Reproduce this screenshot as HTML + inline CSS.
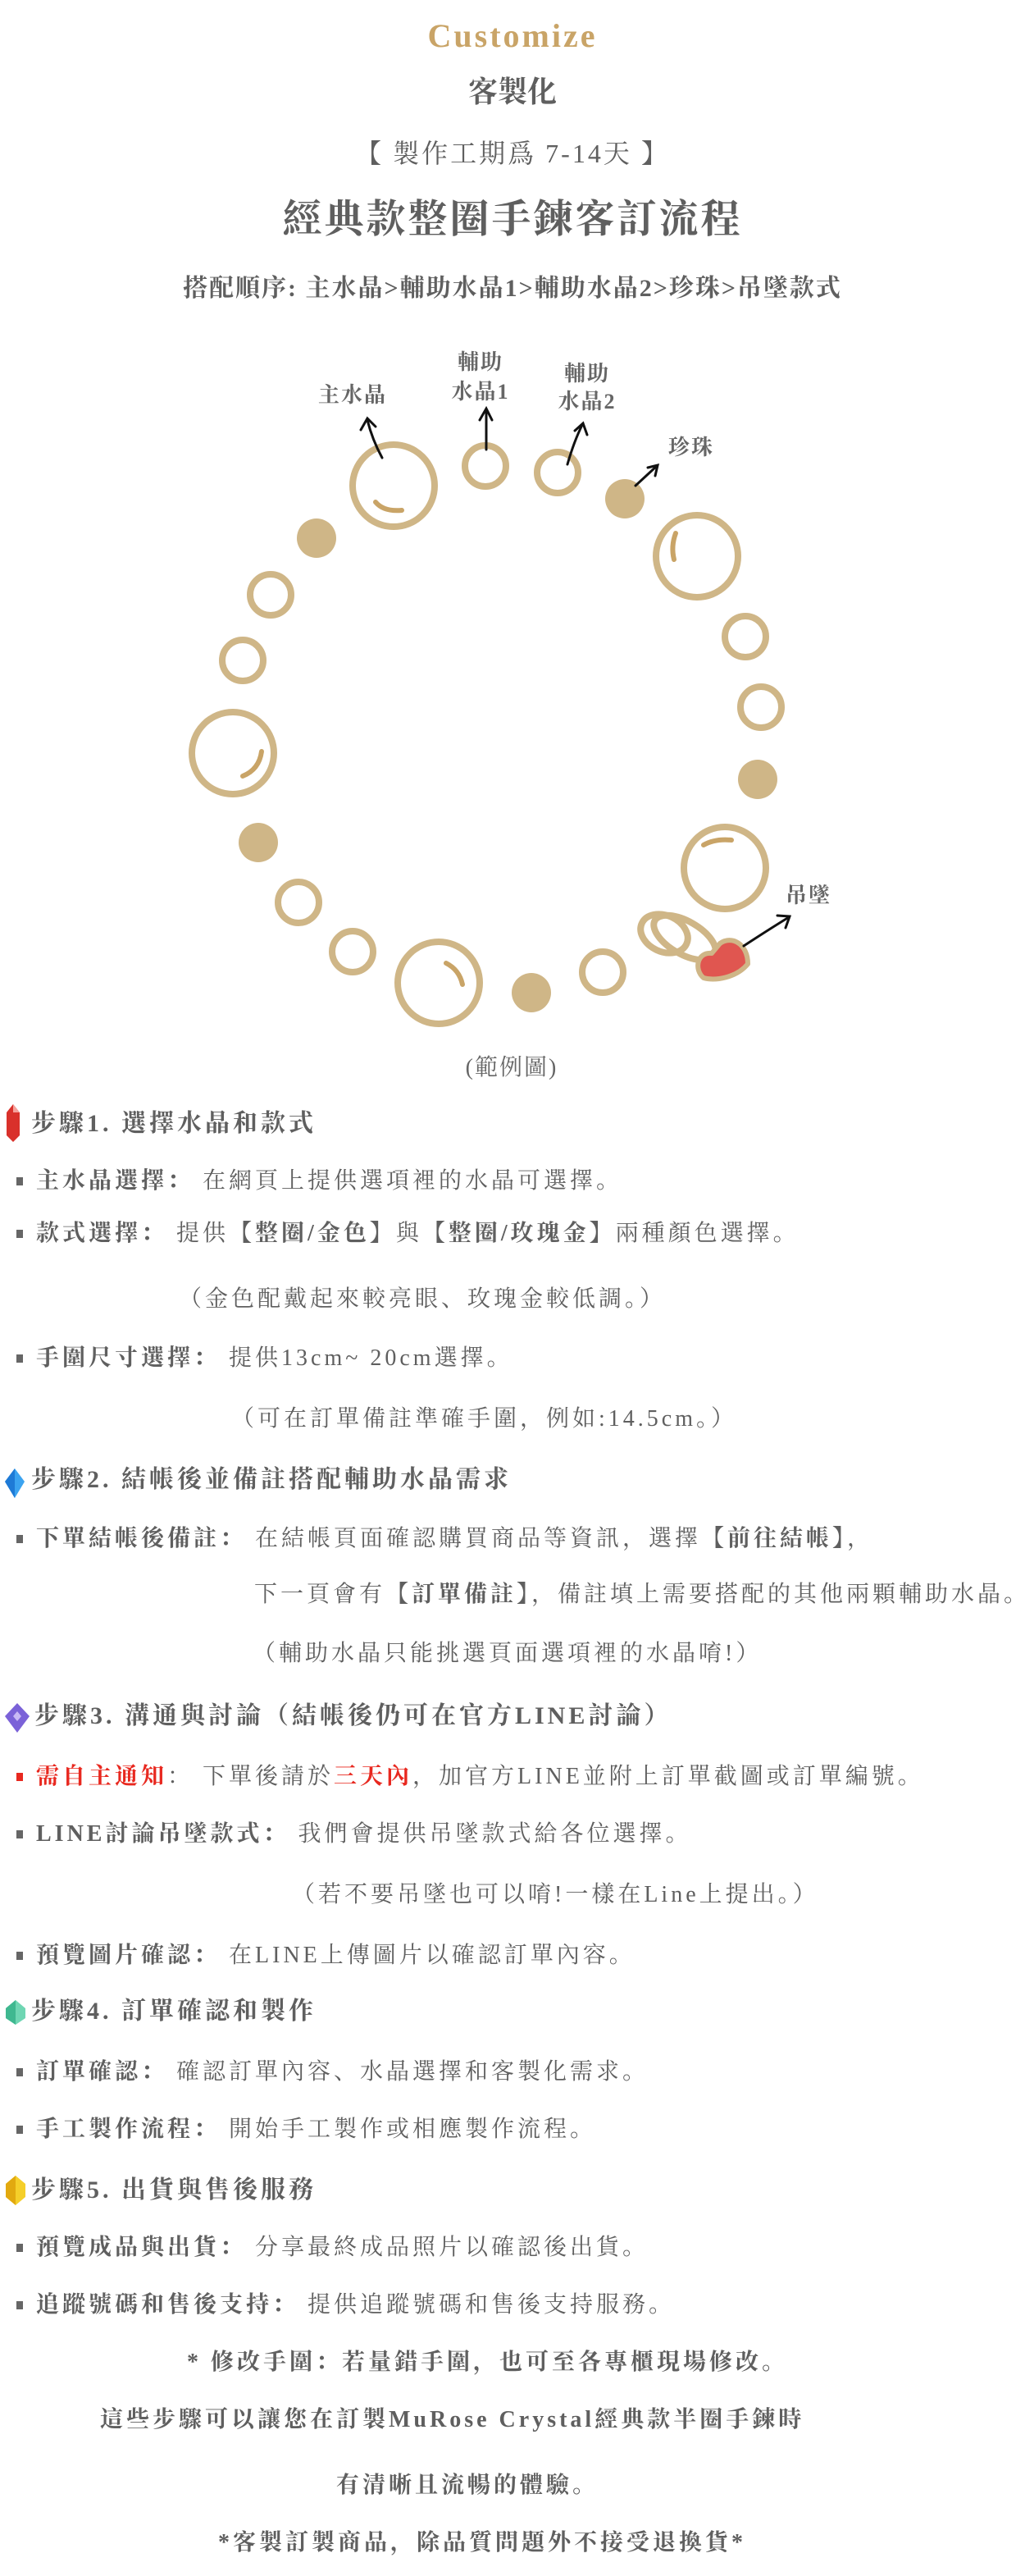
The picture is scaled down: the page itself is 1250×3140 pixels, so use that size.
<!DOCTYPE html>
<html><head><meta charset="utf-8"><style>
body{margin:0;background:#fff;}
#p{position:relative;width:1250px;height:3140px;overflow:hidden;font-family:"Liberation Serif","Noto Serif CJK SC",serif;color:#5f5f5f;}
.t{position:absolute;white-space:nowrap;}
.c{left:0;width:1250px;text-align:center;}
.h{font-size:30px;font-weight:bold;letter-spacing:4px;left:38px;line-height:34px;}
.b{font-size:28px;letter-spacing:4px;line-height:32px;left:20px;}
.b b{font-weight:bold;}
.sq{display:inline-block;width:8px;height:10px;background:#666;margin-right:16px;vertical-align:middle;position:relative;top:-2px;}
.r{color:#e8281f;}
.ic{position:absolute;left:4px;}
</style></head><body><div id="p">
<div class="t c" style="top:20px;font-size:40px;font-weight:bold;color:#c9a467;letter-spacing:3px;">Customize</div>
<div class="t c" style="top:84px;font-size:36px;font-weight:bold;">客製化</div>
<div class="t c" style="top:162px;font-size:32px;letter-spacing:3px;">【 製作工期爲 7-14天 】</div>
<div class="t c" style="top:228px;font-size:48px;font-weight:bold;letter-spacing:3px;">經典款整圈手鍊客訂流程</div>
<div class="t c" style="top:326px;font-size:30px;font-weight:bold;letter-spacing:2px;">搭配順序: 主水晶&gt;輔助水晶1&gt;輔助水晶2&gt;珍珠&gt;吊墜款式</div>

<svg style="position:absolute;left:0;top:0" width="1250" height="1400">
<g fill="none" stroke="#cfb687" stroke-width="8">
<circle cx="480" cy="592" r="50"/>
<circle cx="592" cy="568" r="25"/>
<circle cx="680" cy="576" r="25"/>
<circle cx="850" cy="678" r="50"/>
<circle cx="909" cy="776" r="25"/>
<circle cx="928" cy="862" r="25"/>
<circle cx="884" cy="1058" r="50"/>
<circle cx="735" cy="1185" r="25"/>
<circle cx="535" cy="1198" r="50"/>
<circle cx="430" cy="1160" r="25"/>
<circle cx="364" cy="1100" r="25"/>
<circle cx="284" cy="918" r="50"/>
<circle cx="296" cy="805" r="25"/>
<circle cx="330" cy="725" r="25"/>
<ellipse cx="810" cy="1138" rx="30" ry="22" transform="rotate(25 810 1138)"/>
<ellipse cx="835" cy="1143" rx="42" ry="20" transform="rotate(30 835 1143)"/>
</g>
<g fill="#cfb687">
<circle cx="762" cy="608" r="24"/>
<circle cx="924" cy="950" r="24"/>
<circle cx="648" cy="1210" r="24"/>
<circle cx="315" cy="1027" r="24"/>
<circle cx="386" cy="656" r="24"/>
</g>
<g fill="none" stroke="#c9a467" stroke-width="6" stroke-linecap="round">
<path d="M458 612 Q468 624 490 622"/>
<path d="M824 650 Q818 666 822 682"/>
<path d="M319 916 Q316 938 296 946"/>
<path d="M858 1030 Q872 1022 892 1024"/>
<path d="M544 1174 Q560 1182 564 1200"/>
</g>
<path d="M878 1150 C892 1140 912 1150 912 1175 C898 1192 872 1196 858 1192 C846 1182 850 1160 868 1162 Z" fill="#e05650" stroke="#cfb687" stroke-width="6" stroke-linejoin="round"/>
<g fill="none" stroke="#111" stroke-width="3" stroke-linecap="round">
<path d="M466 558 Q454 536 448 512"/><path d="M440 524 L448 510 L458 520"/>
<path d="M593 548 L593 500"/><path d="M585 512 L593 498 L600 512"/>
<path d="M692 566 Q700 538 710 518"/><path d="M701 525 L711 516 L716 530"/>
<path d="M775 592 L801 568"/><path d="M790 570 L802 567 L799 580"/>
<path d="M907 1153 Q936 1134 962 1118"/><path d="M948 1116 L963 1117 L958 1131"/>
</g>
<g font-family="Liberation Serif, Noto Serif CJK SC, serif" font-size="26" font-weight="bold" fill="#666" text-anchor="middle" letter-spacing="2">
<text x="430" y="490">主水晶</text>
<text x="586" y="450">輔助</text><text x="586" y="486">水晶1</text>
<text x="716" y="464">輔助</text><text x="716" y="498">水晶2</text>
<text x="843" y="554">珍珠</text>
<text x="986" y="1100">吊墜</text>
</g>
<text x="624" y="1310" font-family="Liberation Serif, Noto Serif CJK SC, serif" font-size="28" fill="#666" text-anchor="middle" letter-spacing="2">(範例圖)</text>
</svg>

<svg class="ic" style="top:1344px" width="24" height="50"><path d="M12 2 L20 12 L20 40 L12 48 L4 40 L4 12 Z" fill="#d9312b"/><path d="M12 2 L20 12 L12 12 Z" fill="#f4a19b"/></svg>
<div class="t h" style="top:1353px">步驟1. 選擇水晶和款式</div>
<div class="t b" style="top:1424px"><span class="sq"></span><b>主水晶選擇：</b> 在網頁上提供選項裡的水晶可選擇。</div>
<div class="t b" style="top:1488px"><span class="sq"></span><b>款式選擇：</b> 提供<b>【整圈/金色】</b>與<b>【整圈/玫瑰金】</b>兩種顏色選擇。</div>
<div class="t b" style="top:1568px;left:218px">（金色配戴起來較亮眼、玫瑰金較低調。）</div>
<div class="t b" style="top:1640px"><span class="sq"></span><b>手圍尺寸選擇：</b> 提供13cm~ 20cm選擇。</div>
<div class="t b" style="top:1714px;left:282px">（可在訂單備註準確手圍，例如:14.5cm。）</div>

<svg class="ic" style="top:1788px" width="30" height="40"><path d="M14 2 L26 18 L14 38 L2 18 Z" fill="#3ba3f0"/><path d="M14 2 L14 38 L2 18 Z" fill="#1e7ad6"/></svg>
<div class="t h" style="top:1787px">步驟2. 結帳後並備註搭配輔助水晶需求</div>
<div class="t b" style="top:1860px"><span class="sq"></span><b>下單結帳後備註：</b> 在結帳頁面確認購買商品等資訊，選擇<b>【前往結帳】</b>，</div>
<div class="t b" style="top:1928px;left:310px">下一頁會有<b>【訂單備註】</b>，備註填上需要搭配的其他兩顆輔助水晶。</div>
<div class="t b" style="top:2000px;left:308px">（輔助水晶只能挑選頁面選項裡的水晶唷!）</div>

<svg class="ic" style="top:2074px" width="34" height="40"><path d="M17 2 L32 18 L17 38 L2 18 Z" fill="#7b62d8"/><path d="M17 12 L22 18 L17 24 L12 18 Z" fill="#c9b9f5"/></svg>
<div class="t h" style="top:2075px;left:42px">步驟3. 溝通與討論（結帳後仍可在官方LINE討論）</div>
<div class="t b" style="top:2150px"><span class="sq" style="background:#e8281f"></span><b class="r">需自主通知</b>： 下單後請於<b class="r">三天內</b>，加官方LINE並附上訂單截圖或訂單編號。</div>
<div class="t b" style="top:2220px"><span class="sq"></span><b>LINE討論吊墜款式：</b> 我們會提供吊墜款式給各位選擇。</div>
<div class="t b" style="top:2294px;left:356px">（若不要吊墜也可以唷!一樣在Line上提出。）</div>
<div class="t b" style="top:2368px"><span class="sq"></span><b>預覽圖片確認：</b> 在LINE上傳圖片以確認訂單內容。</div>

<svg class="ic" style="top:2436px" width="30" height="34"><path d="M15 2 L27 12 L27 24 L15 32 L3 24 L3 12 Z" fill="#6fd6b3"/><path d="M15 2 L15 32 L3 24 L3 12 Z" fill="#3fb890"/></svg>
<div class="t h" style="top:2435px">步驟4. 訂單確認和製作</div>
<div class="t b" style="top:2510px"><span class="sq"></span><b>訂單確認：</b> 確認訂單內容、水晶選擇和客製化需求。</div>
<div class="t b" style="top:2580px"><span class="sq"></span><b>手工製作流程：</b> 開始手工製作或相應製作流程。</div>

<svg class="ic" style="top:2650px" width="30" height="40"><path d="M15 2 L27 12 L27 28 L15 38 L3 28 L3 12 Z" fill="#f5cf2a"/><path d="M15 2 L15 38 L3 28 L3 12 Z" fill="#e2a90f"/></svg>
<div class="t h" style="top:2653px">步驟5. 出貨與售後服務</div>
<div class="t b" style="top:2724px"><span class="sq"></span><b>預覽成品與出貨：</b> 分享最終成品照片以確認後出貨。</div>
<div class="t b" style="top:2794px"><span class="sq"></span><b>追蹤號碼和售後支持：</b> 提供追蹤號碼和售後支持服務。</div>
<div class="t b" style="top:2864px;left:228px;font-weight:bold">* 修改手圍：若量錯手圍，也可至各專櫃現場修改。</div>
<div class="t b" style="top:2934px;left:122px;font-weight:bold">這些步驟可以讓您在訂製MuRose Crystal經典款半圈手鍊時</div>
<div class="t b" style="top:3014px;left:410px;font-weight:bold">有清晰且流暢的體驗。</div>
<div class="t b" style="top:3084px;left:266px;font-weight:bold">*客製訂製商品，除品質問題外不接受退換貨*</div>
</div></body></html>
